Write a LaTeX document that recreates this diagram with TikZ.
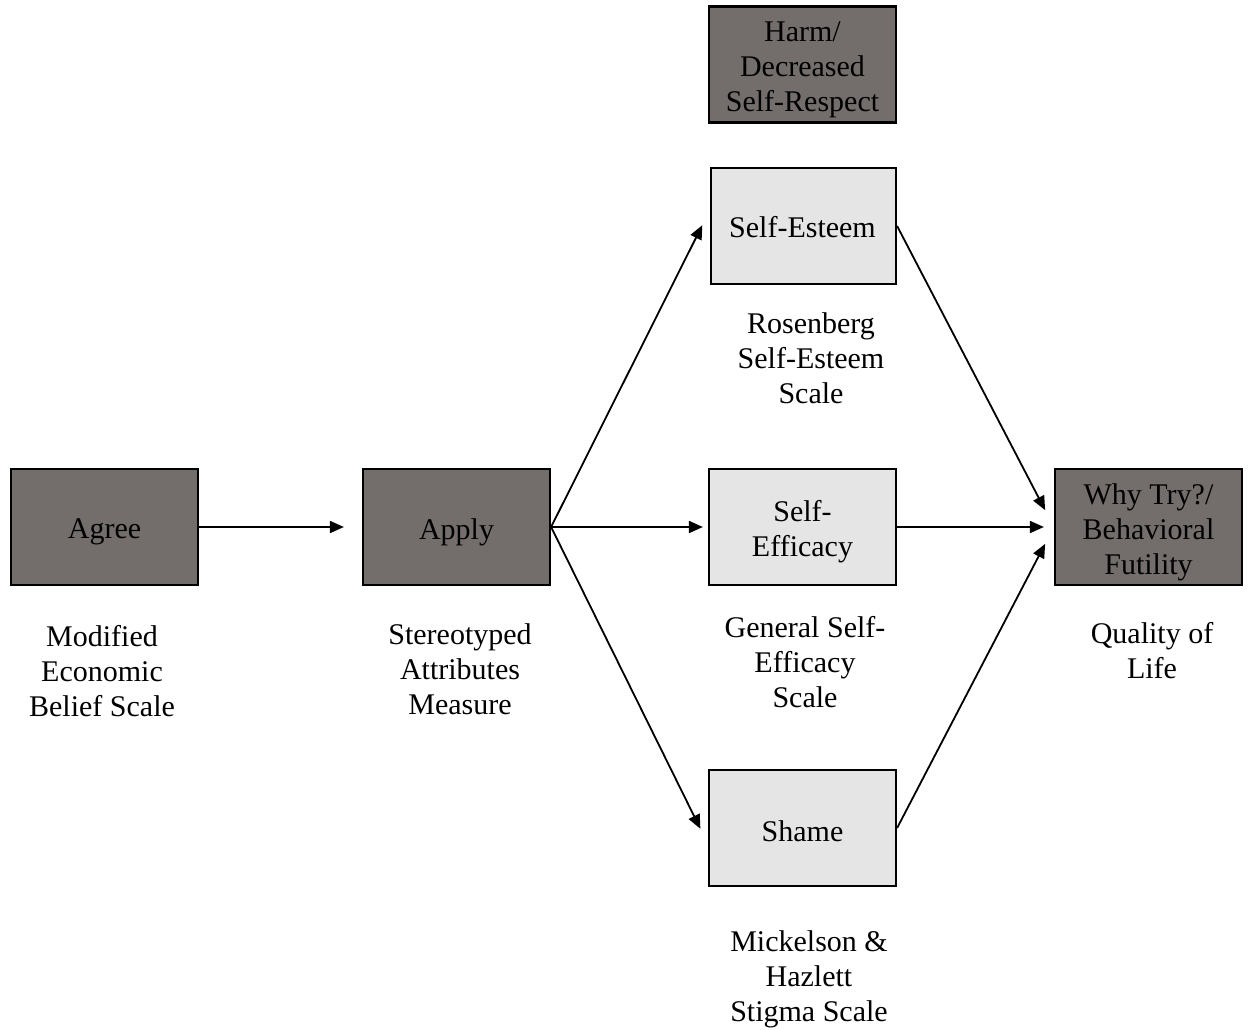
\documentclass[tikz,border=0pt]{standalone}
\usepackage{fontspec}
\setmainfont{Liberation Serif}
\usetikzlibrary{arrows.meta}
\definecolor{darkbox}{RGB}{115,110,108}
\definecolor{lightbox}{RGB}{229,229,229}
\tikzset{
  box/.style={draw=black, line width=2.2pt, minimum width=187pt, minimum height=116pt,
    inner sep=0pt},
  darkfill/.style={box, fill=darkbox},
  lightfill/.style={box, fill=lightbox},
  caption/.style={inner sep=0pt, align=center, font=\fontsize{30}{35}\selectfont},
  boxtext/.style={caption, yshift=-5pt},
  link/.style={line width=1.8pt, -{Triangle[length=14pt,width=12pt]}}
}
\begin{document}
\begin{tikzpicture}[x=1pt,y=-1pt]
  \useasboundingbox (0,0) rectangle (1248,1030);

  % boxes
  \node[darkfill, label={[boxtext]center:Agree}] (agree) at (104.5,527) {};
  \node[darkfill, label={[boxtext]center:Apply}] (apply) at (456.5,527) {};
  \node[darkfill, label={[boxtext]center:Harm/\\Decreased\\Self-Respect}] (harm) at (802.5,64.5) {};
  \node[lightfill, minimum width=185pt, label={[boxtext, yshift=4pt, xshift=-1pt]center:Self-Esteem}] (esteem) at (803.5,226) {};
  \node[lightfill, label={[boxtext]center:Self-\\Efficacy}] (efficacy) at (802.5,527) {};
  \node[lightfill, label={[boxtext, yshift=2pt]center:Shame}] (shame) at (802.5,828) {};
  \node[darkfill, label={[boxtext]center:Why Try?/\\Behavioral\\Futility}] (futile) at (1148.5,527) {};

  % measures under the boxes
  \node[caption] (capagree)   at (102,671) {Modified\\Economic\\Belief Scale};
  \node[caption] (capapply)   at (460,669) {Stereotyped\\Attributes\\Measure};
  \node[caption] (capesteem)  at (811,358) {Rosenberg\\Self-Esteem\\Scale};
  \node[caption] (capeff)     at (805,662) {General Self-\\Efficacy\\Scale};
  \node[caption] (capfutile)  at (1152,650.5) {Quality of\\Life};
  \node[caption] (capshame)   at (809,979) {Mickelson \&\\Hazlett\\Stigma Scale};

  % paths
  \draw[link, shorten >=18pt] (agree.east) -- (apply.west);
  \draw[link, shorten >=17pt] (apply.east) -- ([yshift=16pt]esteem.west);
  \draw[link, shorten >=5pt]  (apply.east) -- (efficacy.west);
  \draw[link, shorten >=17pt] (apply.east) -- ([yshift=-16pt]shame.west);
  \draw[link, shorten >=19pt] (esteem.east) -- (futile.west);
  \draw[link, shorten >=10pt] (efficacy.east) -- (futile.west);
  \draw[link, shorten >=19pt] (shame.east) -- (futile.west);
\end{tikzpicture}
\end{document}
